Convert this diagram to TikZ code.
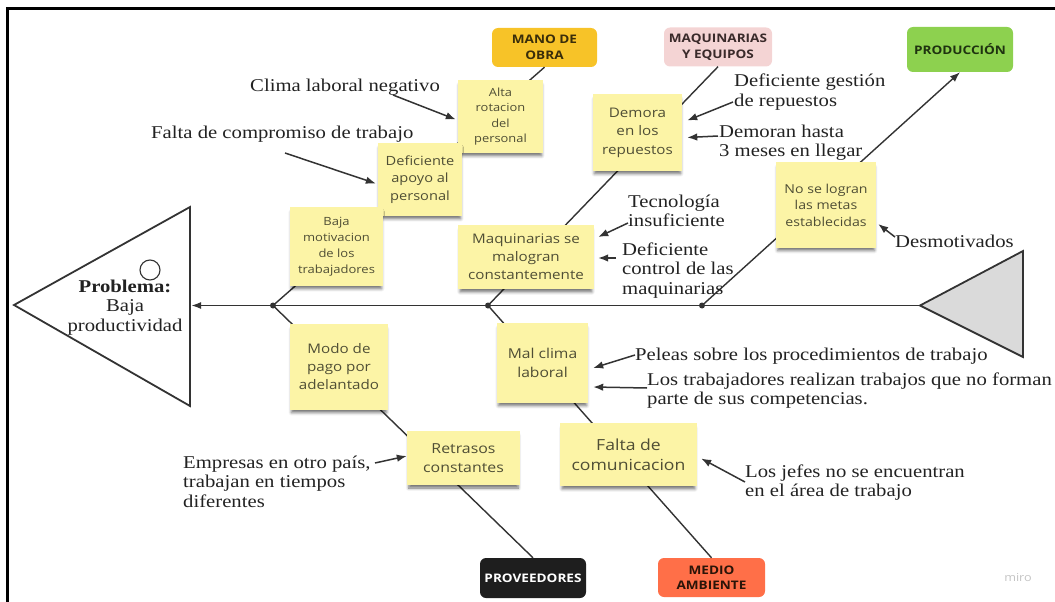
\documentclass[tikz,border=0pt]{standalone}
\usepackage{fontspec}
\newfontfamily\annofont{Liberation Serif}[FakeStretch=1.15]
\newfontfamily\notefont{Open Sans}[FakeStretch=1.15]
\usetikzlibrary{arrows.meta,calc,shadows.blur}

\definecolor{linegray}{HTML}{333333}
\definecolor{annotext}{HTML}{222222}
\definecolor{notetext}{HTML}{4F4E35}
\definecolor{noteyellow}{HTML}{FCF4A6}
\definecolor{tailgray}{HTML}{DADADA}
\definecolor{manofill}{HTML}{F7C328}
\definecolor{manotext}{HTML}{3A2E0A}
\definecolor{maqfill}{HTML}{F4D4D4}
\definecolor{maqtext}{HTML}{3A2A2A}
\definecolor{prodfill}{HTML}{8DD14F}
\definecolor{prodtext}{HTML}{1F3310}
\definecolor{provfill}{HTML}{1E1E1E}
\definecolor{mediofill}{HTML}{FF6F48}
\definecolor{mediotext}{HTML}{2B1408}
\definecolor{mirogray}{HTML}{C4C4C4}

% stacked lines whose baseline is the first line
\newcommand{\stackL}[1]{\begin{tabular}[t]{@{}l@{}}#1\end{tabular}}
\newcommand{\stackC}[1]{\begin{tabular}[t]{@{}c@{}}#1\end{tabular}}

\begin{document}
\begin{tikzpicture}[x=1pt,y=-1pt,
  fishline/.style={draw=linegray, line width=1.8pt, line join=miter},
  bone/.style={draw=linegray, line width=1.4pt},
  pointer/.style={draw=linegray, line width=1.5pt, -{Latex[length=10pt,width=7.5pt]}},
  anno/.style={anchor=base west, inner sep=0pt, text=annotext,
               font=\annofont\fontsize{18}{19.5}\selectfont},
  fsz/.style 2 args={font=\notefont\fontsize{#1}{#2}\selectfont},
  note/.style={fill=noteyellow, inner sep=0pt, align=center, text=notetext,
               blur shadow={shadow xshift=0pt, shadow yshift=-4pt, shadow scale=0.97,
                            shadow blur radius=3pt, shadow opacity=55}},
  cat/.style={rounded corners=6pt, inner sep=0pt, align=center,
              font=\notefont\bfseries\fontsize{11.8}{15.5}\selectfont},
]
\useasboundingbox (0,0) rectangle (1055,602);

% page frame
\draw[line width=3pt, black] (7.5,602) -- (7.5,9) -- (1055,9);

% head and tail of the fish
\draw[fishline, fill=white] (14,305) -- (190,207) -- (190,406) -- cycle;
\draw[linegray, line width=1.1pt] (150,270) circle (10);
\coordinate (hd) at (191,305.5);
\coordinate (tl) at (920,305.5);
\draw[fishline, fill=tailgray] (tl) -- (1023,251) -- (1023,357) -- cycle;
\draw[fishline, -{Latex[length=10pt,width=7pt]}] (tl) -- (hd);

\node[anchor=base, inner sep=0pt, text=annotext,
      font=\annofont\fontsize{18}{19.5}\selectfont] (prob) at (125,292)
      {\stackC{\textbf{Problema:}\\Baja\\productividad}};

% junctions on the spine
\coordinate (j1) at (273,305.5);
\coordinate (j2) at (488,305.5);
\coordinate (j3) at (702,305.5);

% category labels
\node[cat, fill=manofill, text=manotext, minimum width=105, minimum height=39] (cMano) at (544.5,47.5) {MANO DE\\OBRA};
\node[cat, fill=maqfill, text=maqtext, minimum width=108, minimum height=39] (cMaq) at (718,47) {MAQUINARIAS\\Y EQUIPOS};
\node[cat, fill=prodfill, text=prodtext, minimum width=106, minimum height=45] (cProd) at (960,49.5) {PRODUCCIÓN};
\node[cat, fill=provfill, text=white, minimum width=106, minimum height=40] (cProv) at (533,578) {PROVEEDORES};
\node[cat, fill=mediofill, text=mediotext, minimum width=107, minimum height=39] (cMedio) at (711.5,577.5) {MEDIO\\AMBIENTE};

% bones
\draw[bone] (cMano.south) -- (j1);
\draw[bone] (cMaq.south) -- (j2);
\draw[bone, -{Latex[length=10pt,width=7.5pt]}] (j3) -- (cProd.south);
\draw[bone] (j1) -- (cProv.north);
\draw[bone] (j2) -- (cMedio.north);
\foreach \j in {j1,j2,j3} \fill[linegray] (\j) circle (3);

% causes
\node[note, minimum width=85, minimum height=73, fsz={11.2}{15.5}] (nAlta) at (500.5,116.5) {Alta\\rotacion\\del\\personal};
\node[note, minimum width=84, minimum height=73, fsz={12.7}{17.5}] (nApoyo) at (420,179.5) {Deficiente\\apoyo al\\personal};
\node[note, minimum width=93, minimum height=79, fsz={11.3}{16}] (nMotiv) at (336.5,246.5) {Baja\\motivacion\\de los\\trabajadores};
\node[note, minimum width=89, minimum height=77, fsz={13.2}{18.5}] (nDemora) at (637.5,132.5) {Demora\\en los\\repuestos};
\node[note, minimum width=136, minimum height=64, fsz={13.2}{18}] (nMaq) at (526,257) {Maquinarias se\\malogran\\constantemente};
\node[note, minimum width=100, minimum height=86, fsz={12.3}{16.5}] (nMetas) at (826,205) {No se logran\\las metas\\establecidas};
\node[note, minimum width=98, minimum height=86, fsz={13.2}{18}] (nPago) at (339,367) {Modo de\\pago por\\adelantado};
\node[note, minimum width=91, minimum height=80, fsz={13.6}{19}] (nClima) at (542.5,363) {Mal clima\\laboral};
\node[note, minimum width=113, minimum height=54, fsz={13.8}{19}] (nRetraso) at (463.5,458) {Retrasos\\constantes};
\node[note, minimum width=137, minimum height=63, fsz={15.3}{20}] (nComun) at (628.5,454.5) {Falta de\\comunicacion};

% sub-causes
\node[anno] (tClima) at (250,92) {Clima laboral negativo};
\node[anno] (tComp) at (151,138) {Falta de compromiso de trabajo};
\node[anno] (tGest) at (734,87) {\stackL{Deficiente gestión\\de repuestos}};
\node[anno] (tDemo) at (719,137) {\stackL{Demoran hasta\\3 meses en llegar}};
\node[anno] (tTec) at (628,207) {\stackL{Tecnología\\insuficiente}};
\node[anno] (tCtrl) at (622,255) {\stackL{Deficiente\\control de las\\maquinarias}};
\node[anno] (tDesm) at (895,247) {Desmotivados};
\node[anno] (tPel) at (635,360) {Peleas sobre los procedimientos de trabajo};
\node[anno] (tTrab) at (647,385) {\stackL{Los trabajadores realizan trabajos que no forman\\parte de sus competencias.}};
\node[anno] (tJef) at (745,477) {\stackL{Los jefes no se encuentran\\en el área de trabajo}};
\node[anno] (tEmp) at (183,468) {\stackL{Empresas en otro país,\\trabajan en tiempos\\diferentes}};

\draw[pointer] ($(tClima.base west)+(143,3)$) -- ($(nAlta.west)+(-2,3)$);
\draw[pointer] ($(tComp.base west)+(134,15)$) -- ($(nApoyo.west)+(-2,4)$);
\draw[pointer] ($(tGest.base west)+(-1,15)$) -- ($(nDemora.east)+(5,-12)$);
\draw[pointer] ($(tDemo.base west)+(-1,-1)$) -- ($(nDemora.east)+(5,5)$);
\draw[pointer] ($(tTec.base west)+(0,16)$) -- ($(nMaq.east)+(4,-20)$);
\draw[pointer] ($(tCtrl.base west)+(-6,3)$) -- ($(nMaq.east)+(4,1)$);
\draw[pointer] ($(tDesm.base west)+(0,-10)$) -- ($(nMetas.east)+(2,19)$);
\draw[pointer] ($(tPel.base west)+(0,-5)$) -- ($(nClima.east)+(5,5)$);
\draw[pointer] ($(tTrab.base west)+(0,3)$) -- ($(nClima.east)+(5,24)$);
\draw[pointer] ($(tJef.base west)+(0,5)$) -- ($(nComun.east)+(4,4)$);
\draw[pointer] ($(tEmp.base west)+(192,-5)$) -- ($(nRetraso.west)+(0,-2)$);

\node[text=mirogray, inner sep=0pt, font=\notefont\fontsize{11}{13}\selectfont] (miro) at (1018,578) {miro};
\end{tikzpicture}
\end{document}
